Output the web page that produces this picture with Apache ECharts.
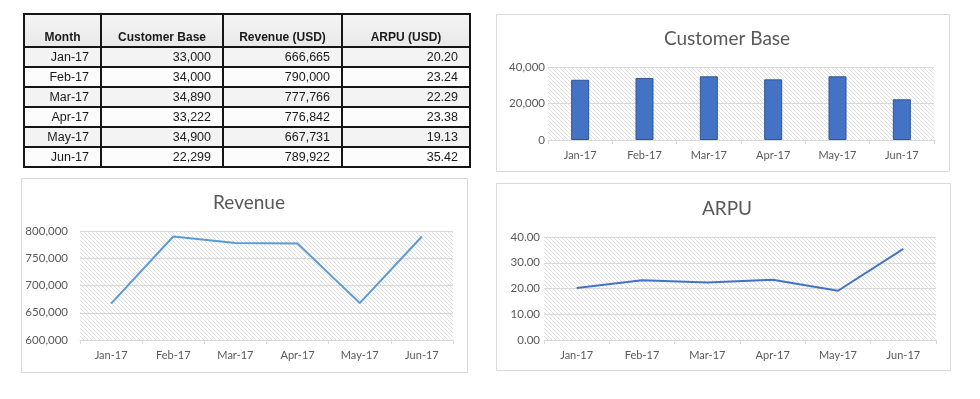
<!DOCTYPE html>
<html>
<head>
<meta charset="utf-8">
<script src="https://cdn.jsdelivr.net/npm/echarts@6/dist/echarts.min.js"></script>
<style>
  html, body { margin: 0; padding: 0; background: #fff; }
  #chart { position: absolute; left: 0; top: 0; width: 980px; height: 399px; }
  #tbl { position: absolute; left: 23px; top: 13px; border-collapse: collapse; table-layout: fixed; width: 446px; font-family: "Liberation Sans", Arial, sans-serif; font-size: 12.5px; color: #1a1a1a; z-index: 2; }
  #tbl td, #tbl th { border: 2px solid #151515; padding: 0 11px 0 4px; box-sizing: border-box; overflow: hidden; white-space: nowrap; }
  #tbl tr.hdr { height: 33px; }
  #tbl tr.odd, #tbl tr.even { height: 20px; }
  #tbl th { font-weight: bold; font-size: 12px; vertical-align: bottom; padding: 0 2px 2px 2px; text-align: center; background: linear-gradient(#f4f4f4, #e9e9e9); }
  #tbl td { text-align: right; }
  #tbl tr.odd td { background: #f3f3f3; }
  #tbl tr.even td { background: #fcfcfc; }
</style>
</head>
<body>
<div id="chart"></div>
<table id="tbl"></table>
<script>
// ---- data ----
const months = ['Jan-17', 'Feb-17', 'Mar-17', 'Apr-17', 'May-17', 'Jun-17'];
const customerBase = [33000, 34000, 34890, 33222, 34900, 22299];
const revenue = [666665, 790000, 777766, 776842, 667731, 789922];
const arpu = [20.20, 23.24, 22.29, 23.38, 19.13, 35.42];
const tableHeaders = ['Month', 'Customer Base', 'Revenue (USD)', 'ARPU (USD)'];
const chartTitles = ['Customer Base', 'Revenue', 'ARPU'];

// ---- table ----
const colWidths = [77, 122, 119, 128];
const tbl = document.getElementById('tbl');
let html = '<colgroup>' + colWidths.map(w => '<col style="width:' + w + 'px">').join('') + '</colgroup>';
html += '<tr class="hdr">' + tableHeaders.map(h => '<th>' + h + '</th>').join('') + '</tr>';
months.forEach((m, i) => {
  html += '<tr class="' + (i % 2 === 0 ? 'odd' : 'even') + '"><td>' + m + '</td><td>' +
    customerBase[i].toLocaleString('en-US') + '</td><td>' +
    revenue[i].toLocaleString('en-US') + '</td><td>' + arpu[i].toFixed(2) + '</td></tr>';
});
tbl.innerHTML = html;

// ---- hatch pattern ----
function hatch() {
  const c = document.createElement('canvas');
  c.width = 4; c.height = 4;
  const g = c.getContext('2d');
  g.fillStyle = '#ffffff'; g.fillRect(0, 0, 4, 4);
  g.strokeStyle = '#dedede'; g.lineWidth = 1;
  g.beginPath();
  g.moveTo(-1, -1); g.lineTo(5, 5);
  g.moveTo(-1, 3); g.lineTo(1, 5);
  g.moveTo(3, -1); g.lineTo(5, 1);
  g.stroke();
  return c;
}
const pat = { image: hatch(), repeat: 'repeat' };

const FONT = 'Lato, "Open Sans", sans-serif';
const labelColor = '#595959';
const lineGray = '#d9d9d9';

function xAx(idx) {
  return {
    type: 'category', gridIndex: idx, data: months, boundaryGap: true,
    axisLine: { lineStyle: { color: lineGray, width: 1 } },
    axisTick: { show: true, length: 4, lineStyle: { color: lineGray } },
    axisLabel: { color: labelColor, fontSize: 11, fontFamily: FONT, margin: 10 }
  };
}
function yAx(idx, min, max, interval, fmt, margin) {
  return {
    type: 'value', gridIndex: idx, min: min, max: max, interval: interval,
    axisLine: { show: false }, axisTick: { show: false },
    splitLine: { lineStyle: { color: lineGray, width: 1 } },
    axisLabel: { color: labelColor, fontSize: 11.5, fontFamily: FONT, formatter: fmt, margin: margin }
  };
}

const chart = echarts.init(document.getElementById('chart'), null, { renderer: 'canvas' });
chart.setOption({
  animation: false,
  backgroundColor: '#ffffff',
  graphic: [
    { type: 'rect', shape: { x: 496.5, y: 14.5, width: 453, height: 157 }, style: { fill: '#fff', stroke: lineGray, lineWidth: 1 }, z: -10 },
    { type: 'rect', shape: { x: 21.5, y: 178.5, width: 446, height: 194 }, style: { fill: '#fff', stroke: lineGray, lineWidth: 1 }, z: -10 },
    { type: 'rect', shape: { x: 496.5, y: 183.5, width: 454, height: 187 }, style: { fill: '#fff', stroke: lineGray, lineWidth: 1 }, z: -10 }
  ],
  title: [
    { text: chartTitles[0], left: 722, top: 24, textAlign: 'center', textStyle: { color: labelColor, fontSize: 19, fontWeight: 'normal', fontFamily: FONT } },
    { text: chartTitles[1], left: 244, top: 188, textAlign: 'center', textStyle: { color: labelColor, fontSize: 19, fontWeight: 'normal', fontFamily: FONT } },
    { text: chartTitles[2], left: 722, top: 194, textAlign: 'center', textStyle: { color: labelColor, fontSize: 19, fontWeight: 'normal', fontFamily: FONT } }
  ],
  grid: [
    { left: 548, top: 67, width: 386, height: 73, show: true, borderWidth: 0, backgroundColor: pat },
    { left: 80, top: 231, width: 373, height: 109, show: true, borderWidth: 0, backgroundColor: pat },
    { left: 544, top: 237, width: 392, height: 103, show: true, borderWidth: 0, backgroundColor: pat }
  ],
  xAxis: [xAx(0), xAx(1), xAx(2)],
  yAxis: [
    yAx(0, 0, 40000, 20000, v => v.toLocaleString('en-US'), 3),
    yAx(1, 600000, 800000, 50000, v => v.toLocaleString('en-US'), 12),
    yAx(2, 0, 40, 10, v => v.toFixed(2), 4)
  ],
  series: [
    { type: 'bar', xAxisIndex: 0, yAxisIndex: 0, data: customerBase, barWidth: 18,
      itemStyle: { color: '#4472C4', borderColor: '#2F5597', borderWidth: 1 } },
    { type: 'line', xAxisIndex: 1, yAxisIndex: 1, data: revenue, symbol: 'none',
      lineStyle: { color: '#5B9BD5', width: 2 } },
    { type: 'line', xAxisIndex: 2, yAxisIndex: 2, data: arpu, symbol: 'none',
      lineStyle: { color: '#4472C4', width: 2 } }
  ]
});
</script>
</body>
</html>
